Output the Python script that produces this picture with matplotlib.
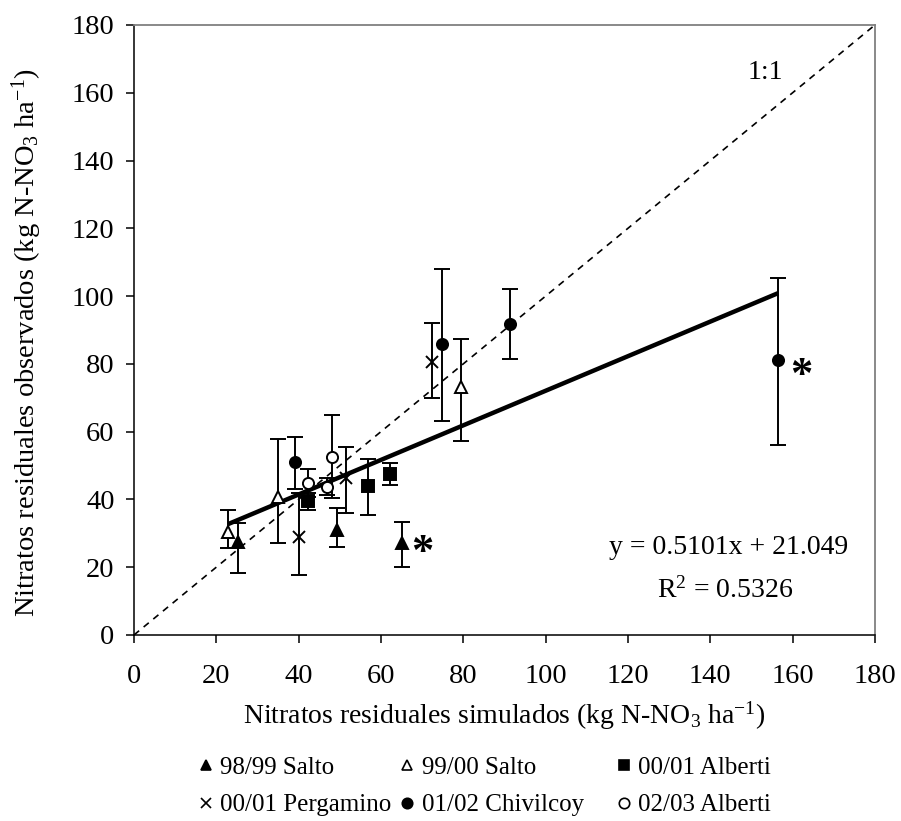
import numpy as np
import matplotlib
matplotlib.use('Agg')
import matplotlib.pyplot as plt
from matplotlib.lines import Line2D

plt.rcParams['font.family'] = 'Liberation Serif'
plt.rcParams['mathtext.fontset'] = 'custom'
plt.rcParams['mathtext.rm'] = 'Liberation Serif'
plt.rcParams['mathtext.it'] = 'Liberation Serif:italic'
plt.rcParams['mathtext.bf'] = 'Liberation Serif:bold'

# simulated (x), observed (y), lower / upper error
salto98_x = [25.3, 49.2, 65.0]
salto98_y = [27.5, 31.0, 27.1]
salto98_lo = [9.1, 4.9, 6.9]
salto98_hi = [5.5, 6.4, 6.3]

salto99_x = [22.9, 35.0, 79.4]
salto99_y = [30.5, 40.8, 73.3]
salto99_lo = [4.9, 13.6, 16.1]
salto99_hi = [6.4, 17.0, 14.0]

alberti00_x = [42.3, 56.9, 62.2]
alberti00_y = [39.5, 44.0, 47.5]
alberti00_lo = [2.5, 8.6, 3.2]
alberti00_hi = [2.5, 7.8, 3.2]

pergamino_x = [40.2, 51.5, 72.3]
pergamino_y = [28.8, 46.2, 80.6]
pergamino_lo = [11.1, 10.1, 10.8]
pergamino_hi = [13.0, 9.4, 11.6]

chivilcoy_x = [39.1, 74.9, 91.4, 156.5]
chivilcoy_y = [51.1, 85.9, 91.8, 81.1]
chivilcoy_lo = [8.0, 22.8, 10.3, 25.0]
chivilcoy_hi = [7.4, 22.0, 10.2, 24.2]

alberti02_x = [42.3, 48.0, 46.8]
alberti02_y = [44.8, 52.6, 43.8]
alberti02_lo = [4.2, 12.3, 2.5]
alberti02_hi = [4.2, 12.3, 2.5]

slope = 0.5101
intercept = 21.049
r2 = 0.5326
lims = [0, 180]
ticks = np.arange(0, 181, 20)

# asterisks marking the two outliers (text positions)
star_x = [70.0, 162.2]
star_y = [24.1, 76.3]

series = [
    ('98/99 Salto', salto98_x, salto98_y, salto98_lo, salto98_hi, '^', 'black', 9),
    ('99/00 Salto', salto99_x, salto99_y, salto99_lo, salto99_hi, '^', 'white', 9),
    ('00/01 Alberti', alberti00_x, alberti00_y, alberti00_lo, alberti00_hi, 's', 'black', 8),
    ('00/01 Pergamino', pergamino_x, pergamino_y, pergamino_lo, pergamino_hi, 'x', 'black', 9),
    ('01/02 Chivilcoy', chivilcoy_x, chivilcoy_y, chivilcoy_lo, chivilcoy_hi, 'o', 'black', 8),
    ('02/03 Alberti', alberti02_x, alberti02_y, alberti02_lo, alberti02_hi, 'o', 'white', 8),
]

fig = plt.figure(figsize=(9.01, 8.21), dpi=100)
ax = fig.add_axes([0.1487, 0.2266, 0.8224, 0.743])

ax.plot(lims, lims, color='black', lw=1.2, ls=(0, (4, 3.5)), zorder=1)

for name, x, y, lo, hi, mk, fc, ms in series:
    ax.errorbar(x, y, yerr=[lo, hi], fmt='none', ecolor='black',
                elinewidth=1.4, capsize=5.5, capthick=1.4, zorder=2)

all_x = np.concatenate([s[1] for s in series])
fit_x = np.array([all_x.min(), all_x.max()])
ax.plot(fit_x, slope * fit_x + intercept, color='black', lw=3.2, zorder=3,
        solid_capstyle='butt')

for name, x, y, lo, hi, mk, fc, ms in series:
    ax.plot(x, y, ls='none', marker=mk, ms=ms, mfc=fc, mec='black',
            mew=1.4, zorder=4)

for sx, sy in zip(star_x, star_y):
    ax.text(sx, sy, '*', fontsize=32, fontweight='bold', ha='center', va='center')

ax.text(144.5, 25.7, 'y = 0.5101x + 21.049', fontsize=20, ha='center', va='center')
ax.text(143.5, 13.3, 'R$^2$ = %.4f' % r2, fontsize=20, ha='center', va='center')
ax.text(153.3, 166, '1:1', fontsize=20, ha='center', va='center')

ax.set_xlim(lims)
ax.set_ylim(lims)
ax.set_xticks(ticks)
ax.set_yticks(ticks)
ax.tick_params(direction='out', length=6, width=1.1, labelsize=20.5)
ax.tick_params(axis='x', pad=15)
ax.tick_params(axis='y', pad=8)
for side in ['top', 'right']:
    ax.spines[side].set_color('#808080')
    ax.spines[side].set_linewidth(1.3)
for side in ['left', 'bottom']:
    ax.spines[side].set_linewidth(1.1)

ax.set_xlabel('Nitratos residuales simulados (kg N-NO$_3$ ha$^{-1}$)', fontsize=20)
ax.set_ylabel('Nitratos residuales observados (kg N-NO$_3$ ha$^{-1}$)', fontsize=20.5)
ax.xaxis.set_label_coords(0.5, -0.105)
ax.yaxis.set_label_coords(-0.121, 0.4795)

handles = []
for name, x, y, lo, hi, mk, fc, ms in series:
    handles.append(Line2D([], [], ls='none', marker=mk, ms=7.5, mfc=fc,
                          mec='black', mew=1.2, label=name))

# one legend per column: (98/99, Pergamino), (99/00, Chivilcoy), (Alberti 00, Alberti 02)
columns = [[0, 3], [1, 4], [2, 5]]
col_left = [198, 399, 616]
for idx, left in zip(columns, col_left):
    fig.legend([handles[i] for i in idx], [handles[i].get_label() for i in idx],
               loc='upper left', bbox_to_anchor=(left / 901, 0.0786), ncol=1,
               frameon=False, fontsize=18, handlelength=0.6, handletextpad=0.3,
               labelspacing=0.6, borderaxespad=0, borderpad=0)

fig.savefig('out.png', dpi=100)
